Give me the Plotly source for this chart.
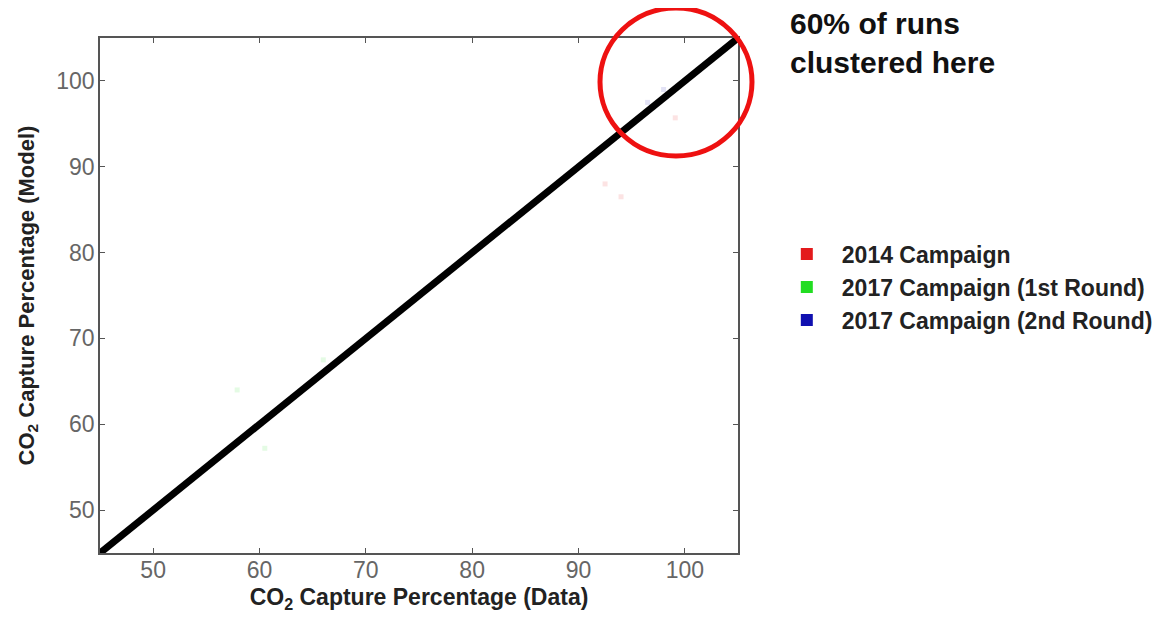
import plotly.graph_objects as go

# Data (points are almost invisible in the reference; faint estimates)
series_names = ["2014 Campaign", "2017 Campaign (1st Round)", "2017 Campaign (2nd Round)"]
series_colors = ["#e31a1c", "#22dd22", "#1010b0"]
x_2014 = [99.1, 94.0, 92.5]
y_2014 = [95.7, 86.5, 88.0]
x_2017a = [57.9, 60.5, 66.0]
y_2017a = [64.0, 57.2, 67.5]
x_2017b = [96.5, 98.0]
y_2017b = [97.5, 99.0]
parity = [45, 105]
tick_vals = [50, 60, 70, 80, 90, 100]

FONT = "Liberation Sans, Arial, sans-serif"
TICKFONT = "Liberation Sans, Arial, sans-serif"

fig = go.Figure()

data_sets = [(x_2014, y_2014), (x_2017a, y_2017a), (x_2017b, y_2017b)]
for (xs, ys), name, col in zip(data_sets, series_names, series_colors):
    fig.add_trace(go.Scatter(x=xs, y=ys, mode="markers", showlegend=False,
                             marker=dict(color=col, size=5, symbol="square", opacity=0.12),
                             hoverinfo="skip"))

fig.add_trace(go.Scatter(x=parity, y=parity, mode="lines", showlegend=False,
                         line=dict(color="black", width=7)))

for i, (name, col) in enumerate(zip(series_names, series_colors)):
    fig.add_trace(go.Scatter(x=[None], y=[None], mode="markers", name="<b>" + name + "</b>",
                             legendgroup="g%d" % i,
                             marker=dict(color=col, size=11, symbol="square")))

axis_common = dict(range=[45, 105], tickvals=tick_vals, ticks="inside", ticklen=5,
                   tickcolor="#555", showline=True, linecolor="#555", linewidth=1.5,
                   mirror="ticks", showgrid=False, zeroline=False, automargin=False,
                   tickfont=dict(family=TICKFONT, size=23, color="#666"))

fig.update_layout(
    width=1147, height=607,
    margin=dict(l=92, r=417, t=30, b=62, autoexpand=False),
    paper_bgcolor="white", plot_bgcolor="white",
    xaxis=dict(**axis_common, ticklabelstandoff=-4,
               title=dict(text="<b>CO<sub>2</sub> Capture Percentage (Data)</b>", standoff=7,
                          font=dict(family=FONT, size=23, color="#222"))),
    yaxis=dict(**axis_common, ticklabelstandoff=-1,
               title=dict(text="<b>CO<sub>2</sub> Capture Percentage (Model)</b>", standoff=16,
                          font=dict(family=FONT, size=22, color="#222"))),
    legend=dict(x=1.053, y=0.622, xanchor="left", yanchor="top",
                font=dict(family=FONT, size=23, color="#222"),
                bgcolor="rgba(0,0,0,0)", itemsizing="constant",
                traceorder="grouped", tracegroupgap=0, itemwidth=60),
    showlegend=True,
)

fig.add_shape(type="circle", xref="paper", yref="paper",
              x0=(600 - 100) / 638, x1=(752 - 100) / 638,
              y0=(553 - 156) / 515, y1=(553 - 8) / 515,
              line=dict(color="#ee1111", width=5))

fig.add_annotation(text="<b>60% of runs<br>clustered here</b>", xref="paper", yref="paper",
                   x=(788 - 100) / 638, y=(553 - 5) / 515, xanchor="left", yanchor="top",
                   align="left", showarrow=False,
                   font=dict(family=FONT, size=30, color="#111"))

fig.write_html("out.html")
